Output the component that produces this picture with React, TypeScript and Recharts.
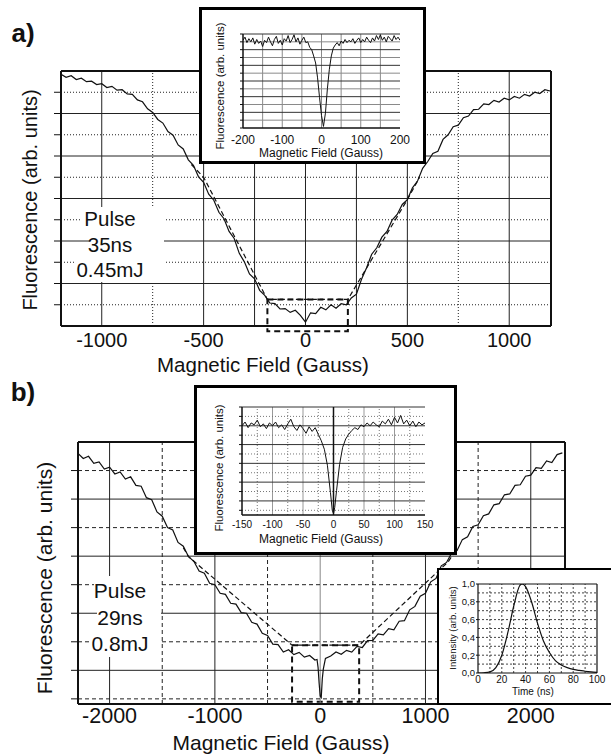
import React from "react";
import { LineChart, Line, XAxis, YAxis, ReferenceLine, ReferenceArea } from "recharts";

const FONT = '"Liberation Sans", Arial, Helvetica, sans-serif';
const INK = "#111";

// ---------- panel a) : 35 ns pulse ----------
const aField = [-1200, -1175, -1150, -1125, -1100, -1075, -1050, -1025, -1000, -975, -950, -925, -900, -875, -850, -825, -800, -775, -750, -725, -700, -675, -650, -625, -600, -575, -550, -525, -500, -475, -450, -425, -400, -375, -350, -325, -300, -275, -250, -225, -200, -175, -150, -125, -100, -75, -50, -25, 0, 25, 50, 75, 100, 125, 150, 175, 200, 225, 250, 275, 300, 325, 350, 375, 400, 425, 450, 475, 500, 525, 550, 575, 600, 625, 650, 675, 700, 725, 750, 775, 800, 825, 850, 875, 900, 925, 950, 975, 1000, 1025, 1050, 1075, 1100, 1125, 1150, 1175, 1200];
const aSignal = [11.85, 11.7, 11.78, 11.6, 11.66, 11.5, 11.52, 11.36, 11.4, 11.22, 11.28, 11.1, 11.12, 10.92, 10.9, 10.64, 10.55, 10.22, 10.05, 9.72, 9.55, 9.15, 8.98, 8.52, 8.33, 7.82, 7.56, 7.02, 6.76, 6.2, 5.92, 5.35, 5.05, 4.45, 4.12, 3.42, 3.02, 2.45, 2.22, 1.68, 1.44, 1.08, 1.05, 0.8, 0.82, 0.64, 0.74, 0.5, 0.18, 0.62, 0.58, 0.88, 0.76, 1.0, 0.84, 1.05, 1.0, 1.32, 1.5, 2.2, 2.74, 3.38, 3.68, 4.18, 4.45, 4.98, 5.25, 5.72, 5.95, 6.5, 6.82, 7.42, 7.74, 8.12, 8.22, 8.78, 9.0, 9.38, 9.45, 9.8, 9.88, 10.18, 10.2, 10.45, 10.42, 10.62, 10.54, 10.72, 10.64, 10.8, 10.72, 10.9, 10.82, 11.0, 10.94, 11.12, 11.06];
const aFitField = [-560, -500, -187, 208, 500, 560];
const aFitSignal = [7.6, 7.0, 1.25, 1.25, 5.95, 7.0];
const aBox = { x1: -187, x2: 208, y1: -0.25, y2: 1.25 };
const aXTicks = [-1000, -500, 0, 500, 1000];
const aYTicks = [1, 2, 3, 4, 5, 6, 7, 8, 9, 10, 11];
const aSolidX = [-1000, -500, -250, 0, 250, 500, 1000];
const aDotX = [-750, 750];
const aSolidY = [2, 4, 6, 8, 10];
const aDotY = [1, 3, 5, 7, 9, 11];

// inset of a)
const iaField = [-200, -195, -190, -185, -180, -175, -170, -165, -160, -155, -150, -145, -140, -135, -130, -125, -120, -115, -110, -105, -100, -95, -90, -85, -80, -75, -70, -65, -60, -55, -50, -45, -40, -35, -30, -25, -20, -15, -10, -5, 0, 5, 10, 15, 20, 25, 30, 35, 40, 45, 50, 55, 60, 65, 70, 75, 80, 85, 90, 95, 100, 105, 110, 115, 120, 125, 130, 135, 140, 145, 150, 155, 160, 165, 170, 175, 180, 185, 190, 195, 200];
const iaSignal = [11.2, 11.6, 10.9, 11.4, 11.0, 11.5, 10.7, 11.3, 10.8, 11.1, 10.4, 11.2, 10.9, 11.6, 11.0, 10.5, 11.3, 11.7, 10.8, 11.2, 10.6, 11.4, 11.1, 11.8, 10.9, 11.3, 11.9, 11.0, 11.5, 10.7, 11.2, 11.6, 10.9, 11.0, 10.3, 10.0, 9.2, 8.3, 6.4, 3.9, 1.6, 0.2, 1.9, 5.0, 7.5, 9.2, 10.2, 10.6, 10.9, 10.5, 11.1, 10.8, 11.3, 10.9, 11.2, 11.0, 11.4, 10.8, 11.2, 11.5, 10.9, 11.3, 11.0, 11.6, 11.2, 10.9, 11.5, 11.1, 11.8, 11.3, 11.9, 11.2, 11.6, 11.0, 11.7, 11.4, 11.1, 11.8, 11.3, 11.6, 11.2];
const iaXTicks = [-200, -100, 0, 100, 200];
const iaYTicks = [0, 1, 2, 3, 4, 5, 6, 7, 8, 9, 10, 11, 12];
const iaGridX = [-150, -100, -50, 0, 50, 100, 150];
const iaDarkY = [2, 4, 6, 8, 10, 12];
const iaLightY = [1, 3, 5, 7, 9, 11];

// ---------- panel b) : 29 ns pulse ----------
const bField = [-2300, -2250, -2200, -2150, -2100, -2050, -2000, -1950, -1900, -1850, -1800, -1750, -1700, -1650, -1600, -1550, -1500, -1450, -1400, -1350, -1300, -1250, -1200, -1150, -1100, -1050, -1000, -950, -900, -850, -800, -750, -700, -650, -600, -550, -500, -450, -400, -350, -300, -250, -200, -150, -100, -50, -30, -20, -10, 0, 10, 20, 30, 50, 100, 150, 200, 250, 300, 350, 400, 450, 500, 550, 600, 650, 700, 750, 800, 850, 900, 950, 1000, 1050, 1100, 1150, 1200, 1250, 1300, 1350, 1400, 1450, 1500, 1550, 1600, 1650, 1700, 1750, 1800, 1850, 1900, 1950, 2000, 2050, 2100, 2150, 2200, 2250, 2300];
const bSignal = [8.6, 8.42, 8.5, 8.25, 8.3, 8.05, 8.12, 7.88, 7.95, 7.7, 7.78, 7.48, 7.45, 7.05, 6.98, 6.55, 6.4, 6.0, 5.92, 5.48, 5.35, 4.98, 4.82, 4.48, 4.4, 4.05, 4.0, 3.7, 3.66, 3.35, 3.32, 3.02, 3.0, 2.68, 2.62, 2.3, 2.22, 1.92, 1.9, 1.64, 1.72, 1.55, 1.63, 1.46, 1.52, 1.36, 1.38, 1.1, 0.55, 0.1, 0.05, 0.7, 1.05, 1.42, 1.5, 1.64, 1.56, 1.7, 1.64, 1.84, 1.8, 2.04, 2.05, 2.28, 2.24, 2.46, 2.42, 2.72, 2.74, 3.12, 3.24, 3.6, 3.7, 4.1, 4.22, 4.66, 4.78, 5.12, 5.2, 5.58, 5.68, 6.04, 6.1, 6.42, 6.48, 6.8, 6.84, 7.15, 7.18, 7.48, 7.5, 7.8, 7.84, 8.1, 8.08, 8.34, 8.28, 8.56, 8.62];
const bFitField = [-1300, -1250, -267, 370, 1215, 1260];
const bFitSignal = [5.3, 4.98, 1.88, 1.88, 4.8, 5.05];
const bBox = { x1: -267, x2: 370, y1: -0.1, y2: 1.88 };
const bXTicks = [-2000, -1000, 0, 1000, 2000];
const bYTicks = [0, 1, 2, 3, 4, 5, 6, 7, 8];
const bSolidX = [-2000, -1000, 1000, 2000];
const bDashX = [-1500, -500, 500, 1500];
const bSolidY = [1, 3, 5, 7];
const bDashY = [0, 2, 4, 6, 8];

// inset of b)
const ibField = [-150, -145, -140, -135, -130, -125, -120, -115, -110, -105, -100, -95, -90, -85, -80, -75, -70, -65, -60, -55, -50, -45, -40, -35, -30, -25, -20, -15, -10, -5, -2, 0, 2, 5, 10, 15, 20, 25, 30, 35, 40, 45, 50, 55, 60, 65, 70, 75, 80, 85, 90, 95, 100, 105, 110, 115, 120, 125, 130, 135, 140, 145, 150];
const ibSignal = [9.5, 9.9, 9.3, 9.8, 9.6, 10.1, 9.4, 9.7, 9.2, 9.8, 9.5, 9.9, 9.3, 9.6, 9.1, 9.7, 10.2, 9.4, 9.0, 9.6, 9.2, 8.7, 9.4, 8.9, 9.3, 8.6, 7.9, 7.0, 5.3, 2.4, 0.5, 0.15, 0.8, 2.6, 5.4, 7.2, 8.1, 8.6, 9.0, 9.3, 9.1, 9.6, 9.4, 9.8, 9.5, 9.9, 9.6, 9.4, 10.0, 9.7, 10.2, 9.6, 10.4, 9.8, 10.6, 9.7, 10.1, 9.5, 10.0, 9.4, 9.9, 9.6, 9.8];
const ibXTicks = [-150, -100, -50, 0, 50, 100, 150];
const ibYTicks = [0.5, 1.5, 2.5, 3.5, 4.5, 5.5, 6.5, 7.5, 8.5, 9.5, 10.5, 11.5];
const ibSolidX = [-100, -50, 50, 100];
const ibDotX = [-125, -75, -25, 25, 75, 125];
const ibSolidY = [1.5, 3.5, 5.5, 7.5, 9.5, 11.5];
const ibDotY = [0.5, 2.5, 4.5, 6.5, 8.5, 10.5];

// laser pulse shape
const pulseTime = [0, 5, 10, 15, 20, 25, 30, 35, 37, 40, 45, 50, 55, 60, 65, 70, 75, 80, 85, 90, 95, 100];
const pulseIntensity = [0, 0.003, 0.012, 0.06, 0.2, 0.45, 0.75, 0.98, 1.0, 0.97, 0.8, 0.56, 0.36, 0.23, 0.14, 0.09, 0.06, 0.04, 0.03, 0.02, 0.012, 0.006];
const pulseXTicks = [0, 20, 40, 60, 80, 100];
const pulseYTicks = [0, 0.2, 0.4, 0.6, 0.8, 1.0];
const pulseGridX = [10, 20, 30, 40, 50, 60, 70, 80, 90];
const pulseGridY = [0.1, 0.2, 0.3, 0.4, 0.5, 0.6, 0.7, 0.8, 0.9];

const toPoints = (xs: number[], ys: number[]) => xs.map((x, i) => ({ x, y: ys[i] }));

const aMain = toPoints(aField, aSignal);
const aFit = toPoints(aFitField, aFitSignal);
const iaMain = toPoints(iaField, iaSignal);
const bMain = toPoints(bField, bSignal);
const bFit = toPoints(bFitField, bFitSignal);
const ibMain = toPoints(ibField, ibSignal);
const pulse = toPoints(pulseTime, pulseIntensity);

function Caption({ x, y, size, rotate, bold, children }: any) {
    return (
        <div
            style={{
                position: "absolute",
                left: x,
                top: y,
                fontSize: size,
                fontWeight: bold ? "bold" : "normal",
                lineHeight: 1,
                whiteSpace: "nowrap",
                color: INK,
                transform: `translate(-50%, -50%)${rotate ? " rotate(-90deg)" : ""}`,
            }}
        >
            {children}
        </div>
    );
}

function Blank({ left, top, width, height }: any) {
    return <div style={{ position: "absolute", left, top, width, height, background: "#fff" }} />;
}

function Frame({ left, top, width, height, border }: any) {
    return (
        <div
            style={{
                position: "absolute",
                left,
                top,
                width,
                height,
                boxSizing: "border-box",
                border: `${border}px solid #000`,
                background: "#fff",
            }}
        />
    );
}

const at = (left: number, top: number): React.CSSProperties => ({ position: "absolute", left, top });

export default function App() {
    return (
        <div
            style={{
                position: "absolute",
                left: 0,
                top: 0,
                width: 611,
                height: 755,
                overflow: "hidden",
                background: "#fff",
                fontFamily: FONT,
            }}
        >
            {/* a) main */}
            <div style={at(0, 0)}>
                <LineChart width={611} height={380} margin={{ top: 71, right: 60, bottom: 24, left: 51 }}>
                    <XAxis type="number" dataKey="x" domain={[-1200, 1205]} ticks={aXTicks} interval={0} allowDataOverflow height={30}
                        tickLine={false} tickSize={5} tickMargin={2} axisLine={{ stroke: INK, strokeWidth: 2 }}
                        tick={{ fontSize: 20, fill: INK, fontFamily: FONT }} />
                    <YAxis type="number" domain={[0, 12]} ticks={aYTicks} interval={0} allowDataOverflow width={10} tickSize={7}
                        tickFormatter={() => ""} axisLine={{ stroke: INK, strokeWidth: 2 }} tickLine={{ stroke: INK }} />
                    {aSolidX.map((v) => <ReferenceLine key={"asx" + v} x={v} stroke="#222" />)}
                    {aDotX.map((v) => <ReferenceLine key={"adx" + v} x={v} stroke="#222" strokeDasharray="1 2" />)}
                    {aSolidY.map((v) => <ReferenceLine key={"asy" + v} y={v} stroke="#222" />)}
                    {aDotY.map((v) => <ReferenceLine key={"ady" + v} y={v} stroke="#222" strokeDasharray="1 2" />)}
                    <ReferenceLine y={12} stroke={INK} strokeWidth={2} />
                    <ReferenceLine x={1205} stroke={INK} strokeWidth={2} />
                    <ReferenceArea x1={aBox.x1} x2={aBox.x2} y1={aBox.y1} y2={aBox.y2} ifOverflow="visible"
                        fill="none" stroke={INK} strokeWidth={2} strokeDasharray="6 4" />
                    <Line data={aMain} dataKey="y" type="linear" stroke={INK} strokeWidth={1.2} dot={false} activeDot={false} isAnimationActive={false} />
                    <Line data={aFit} dataKey="y" type="linear" stroke={INK} strokeWidth={1.2} strokeDasharray="5 3" dot={false} activeDot={false} isAnimationActive={false} />
                </LineChart>
            </div>
            <Blank left={82} top={207} width={82} height={25} />
            <Blank left={90} top={232} width={74} height={25} />
            <Blank left={74} top={257} width={90} height={25} />
            <Caption x={110} y={219} size={20.5}>Pulse</Caption>
            <Caption x={110} y={245} size={20.5}>35ns</Caption>
            <Caption x={110} y={270} size={20.5}>0.45mJ</Caption>

            {/* a) inset */}
            <Frame left={199} top={7} width={227} height={157} border={3} />
            <div style={at(199, 7)}>
                <LineChart width={227} height={157} margin={{ top: 27, right: 26, bottom: 20, left: 38 }}>
                    <XAxis type="number" dataKey="x" domain={[-200, 200]} ticks={iaXTicks} interval={0} allowDataOverflow height={16}
                        tickLine={false} tickSize={3} tickMargin={4} axisLine={{ stroke: INK, strokeWidth: 1.5 }}
                        tick={{ fontSize: 12, fill: INK, fontFamily: FONT }} />
                    <YAxis type="number" domain={[0, 12]} ticks={iaYTicks} interval={0} allowDataOverflow width={6} tickSize={3}
                        tickFormatter={() => ""} axisLine={{ stroke: INK, strokeWidth: 1.5 }} tickLine={{ stroke: INK }} />
                    {iaGridX.map((v) => <ReferenceLine key={"iax" + v} x={v} stroke="#8a8a8a" />)}
                    {iaLightY.map((v) => <ReferenceLine key={"ialy" + v} y={v} stroke="#8a8a8a" />)}
                    {iaDarkY.map((v) => <ReferenceLine key={"iady" + v} y={v} stroke="#333" />)}
                    <Line data={iaMain} dataKey="y" type="linear" stroke={INK} strokeWidth={1} dot={false} activeDot={false} isAnimationActive={false} />
                </LineChart>
            </div>
            <Caption x={221} y={86} size={11.5} rotate>Fluorescence (arb. units)</Caption>
            <Caption x={321} y={153} size={12}>Magnetic Field (Gauss)</Caption>

            <Caption x={23} y={33} size={26} bold>a)</Caption>
            <Caption x={30} y={200} size={20} rotate>Fluorescence (arb. units)</Caption>
            <Caption x={263} y={365} size={20.5}>Magnetic Field (Gauss)</Caption>

            {/* b) main */}
            <div style={at(0, 380)}>
                <LineChart width={611} height={375} margin={{ top: 62, right: 46, bottom: 21, left: 68 }}>
                    <XAxis type="number" dataKey="x" domain={[-2300, 2325]} ticks={bXTicks} interval={0} allowDataOverflow height={30}
                        tickLine={false} tickSize={2} tickMargin={2} axisLine={{ stroke: INK, strokeWidth: 2 }}
                        tick={{ fontSize: 21.5, fill: INK, fontFamily: FONT }} />
                    <YAxis type="number" domain={[-0.18, 9]} ticks={bYTicks} interval={0} allowDataOverflow width={10} tickSize={7}
                        tickFormatter={() => ""} axisLine={{ stroke: INK, strokeWidth: 2 }} tickLine={{ stroke: INK }} />
                    {bSolidX.map((v) => <ReferenceLine key={"bsx" + v} x={v} stroke="#222" />)}
                    <ReferenceLine x={0} stroke="#888" />
                    {bDashX.map((v) => <ReferenceLine key={"bdx" + v} x={v} stroke="#222" strokeDasharray="4 3" />)}
                    {bSolidY.map((v) => <ReferenceLine key={"bsy" + v} y={v} stroke="#222" />)}
                    {bDashY.map((v) => <ReferenceLine key={"bdy" + v} y={v} stroke="#222" strokeDasharray="4 3" />)}
                    <ReferenceLine y={9} stroke={INK} strokeWidth={2} />
                    <ReferenceLine x={2325} stroke={INK} strokeWidth={2} />
                    <ReferenceArea x1={bBox.x1} x2={bBox.x2} y1={bBox.y1} y2={bBox.y2} ifOverflow="visible"
                        fill="none" stroke={INK} strokeWidth={2} strokeDasharray="6 4" />
                    <Line data={bMain} dataKey="y" type="linear" stroke={INK} strokeWidth={1.2} dot={false} activeDot={false} isAnimationActive={false} />
                    <Line data={bFit} dataKey="y" type="linear" stroke={INK} strokeWidth={1.2} strokeDasharray="5 3" dot={false} activeDot={false} isAnimationActive={false} />
                </LineChart>
            </div>
            <Blank left={94} top={576} width={67} height={27} />
            <Blank left={97} top={603} width={64} height={27} />
            <Blank left={92} top={630} width={69} height={27} />
            <Caption x={120} y={590} size={21}>Pulse</Caption>
            <Caption x={120} y={617} size={21}>29ns</Caption>
            <Caption x={120} y={643} size={21}>0.8mJ</Caption>

            {/* b) inset */}
            <Frame left={194} top={385} width={263} height={170} border={3} />
            <div style={at(194, 385)}>
                <LineChart width={263} height={170} margin={{ top: 22, right: 32, bottom: 24, left: 42 }}>
                    <XAxis type="number" dataKey="x" domain={[-150, 150]} ticks={ibXTicks} interval={0} allowDataOverflow height={16}
                        tickLine={false} tickSize={3} tickMargin={3} axisLine={{ stroke: INK, strokeWidth: 1.5 }}
                        tick={{ fontSize: 10, fill: INK, fontFamily: FONT }} />
                    <YAxis type="number" domain={[0, 11.5]} ticks={ibYTicks} interval={0} allowDataOverflow width={6} tickSize={3}
                        tickFormatter={() => ""} axisLine={{ stroke: INK, strokeWidth: 1.5 }} tickLine={{ stroke: INK }} />
                    {ibSolidX.map((v) => <ReferenceLine key={"ibsx" + v} x={v} stroke="#999" />)}
                    {ibDotX.map((v) => <ReferenceLine key={"ibdx" + v} x={v} stroke="#777" strokeDasharray="1 2" />)}
                    {ibDotY.map((v) => <ReferenceLine key={"ibdy" + v} y={v} stroke="#777" strokeDasharray="1 2" />)}
                    {ibSolidY.map((v) => <ReferenceLine key={"ibsy" + v} y={v} stroke="#333" />)}
                    <ReferenceLine x={0} stroke={INK} strokeWidth={1.5} />
                    <Line data={ibMain} dataKey="y" type="linear" stroke={INK} strokeWidth={1} dot={false} activeDot={false} isAnimationActive={false} />
                </LineChart>
            </div>
            <Caption x={220} y={468} size={11.5} rotate>Fluorescence (arb. units)</Caption>
            <Caption x={321} y={539} size={12}>Magnetic Field (Gauss)</Caption>

            {/* pulse shape inset */}
            <Frame left={437} top={568} width={180} height={137} border={2} />
            <div style={at(437, 568)}>
                <LineChart width={174} height={137} margin={{ top: 16, right: 14, bottom: 20, left: 37 }}>
                    <XAxis type="number" dataKey="x" domain={[0, 100]} ticks={pulseXTicks} interval={0} allowDataOverflow height={12}
                        tickLine={false} tickSize={2} tickMargin={1} axisLine={{ stroke: INK, strokeWidth: 1.2 }}
                        tick={{ fontSize: 10, fill: INK, fontFamily: FONT }} />
                    <YAxis type="number" domain={[0, 1]} ticks={pulseYTicks} interval={0} allowDataOverflow width={4} tickSize={2} tickMargin={1}
                        tickFormatter={(v: number) => v.toFixed(1).replace(".", ",")} axisLine={{ stroke: INK, strokeWidth: 1.2 }}
                        tickLine={{ stroke: INK }} tick={{ fontSize: 9.5, fill: INK, fontFamily: FONT }} />
                    {pulseGridX.map((v) => <ReferenceLine key={"px" + v} x={v} stroke="#444" strokeDasharray="2 2" />)}
                    {pulseGridY.map((v) => <ReferenceLine key={"py" + v} y={v} stroke="#444" strokeDasharray="2 2" />)}
                    <ReferenceLine y={1} stroke={INK} strokeWidth={1.2} />
                    <ReferenceLine x={100} stroke={INK} strokeWidth={1.2} />
                    <Line data={pulse} dataKey="y" type="monotone" stroke={INK} strokeWidth={1.2} dot={false} activeDot={false} isAnimationActive={false} />
                </LineChart>
            </div>
            <Caption x={453} y={628} size={9.5} rotate>Intensity (arb. units)</Caption>
            <Caption x={533} y={692} size={10}>Time (ns)</Caption>

            <Caption x={23} y={392} size={26} bold>b)</Caption>
            <Caption x={44} y={578} size={21} rotate>Fluorescence (arb. units)</Caption>
            <Caption x={281} y={742} size={21}>Magnetic Field (Gauss)</Caption>
        </div>
    );
}
